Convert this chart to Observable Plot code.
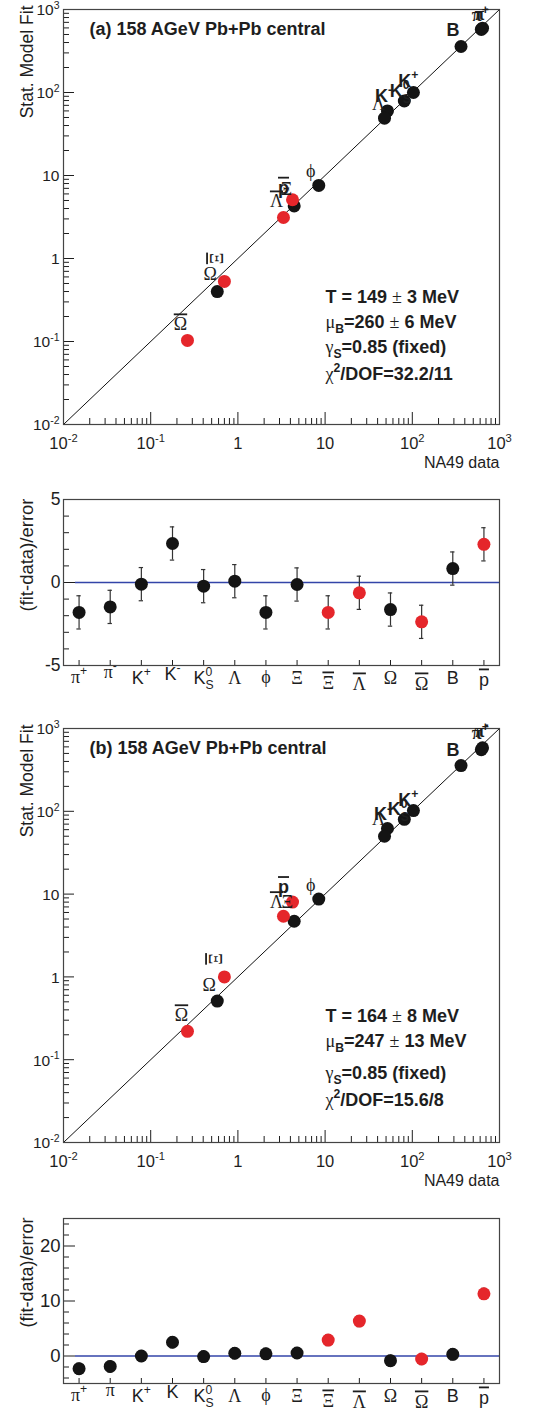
<!DOCTYPE html>
<html><head><meta charset="utf-8">
<script src="https://cdn.jsdelivr.net/npm/d3@7"></script>
<script src="https://cdn.jsdelivr.net/npm/@observablehq/plot@0.6"></script>
<style>
body{margin:0;background:#fff;}
#chart{width:534px;}
#chart svg{display:block;}
</style></head><body><div id="chart"></div>
<script>
// ---------------- DATA ----------------
const particles  = ["π^{+}", "π^{-}", "K^{+}", "K^{-}", "K^{0}_{S}", "Λ", "ϕ", "Ξ", "#bar{Ξ}", "#bar{Λ}", "Ω", "#bar{Ω}", "B", "#bar{p}"];
const particlesB = ["π^{+}", "π", "K^{+}", "K", "K^{0}_{S}", "Λ", "ϕ", "Ξ", "#bar{Ξ}", "#bar{Λ}", "Ω", "#bar{Ω}", "B", "#bar{p}"];
const excluded   = [false, false, false, false, false, false, false, false, true, true, false, true, false, true];
const na49Data   = [619, 639, 103, 51.9, 81, 48, 8.46, 4.42, 0.70, 3.33, 0.58, 0.264, 362, 4.23];
const fitA       = [575, 595, 100, 60, 79, 49, 7.6, 4.3, 0.53, 3.12, 0.40, 0.103, 358, 5.1];
const fitB       = [555, 585, 102, 62, 80, 50, 8.7, 4.7, 1.0, 5.4, 0.51, 0.22, 357, 8.0];
const residA     = [-1.8, -1.47, -0.1, 2.35, -0.22, 0.08, -1.8, -0.12, -1.8, -0.62, -1.63, -2.37, 0.84, 2.3];
const residB     = [-2.3, -1.9, 0.0, 2.5, -0.1, 0.5, 0.4, 0.55, 2.9, 6.35, -0.85, -0.55, 0.3, 11.3];
const residErr   = [1, 1, 1, 1, 1, 1, 1, 1, 1, 1, 1, 1, 1, 1];
const logTicks      = [1e-2, 1e-1, 1, 10, 100, 1000];
const logTickLabels = ["10^{-2}", "10^{-1}", "1", "10", "10^{2}", "10^{3}"];
const residTicksA   = [-5, 0, 5];
const residLabelsA  = ["-5", "0", "5"];
const residTicksB   = [0, 10, 20];
const residLabelsB  = ["0", "10", "20"];
const titles  = ["(a) 158 AGeV Pb+Pb central", "(b) 158 AGeV Pb+Pb central"];
const paramsA = ["T = 149 ± 3 MeV", "μ_{B}=260 ± 6 MeV", "γ_{S}=0.85 (fixed)", "χ^{2}/DOF=32.2/11"];
const paramsB = ["T = 164 ± 8 MeV", "μ_{B}=247 ± 13 MeV", "γ_{S}=0.85 (fixed)", "χ^{2}/DOF=15.6/8"];
const xTitle = "NA49 data", yTitle = "Stat. Model Fit", residTitle = "(fit-data)/error";

// ---------------- STYLE / LAYOUT ----------------
const SANS = "'Liberation Sans', Arial, Helvetica, sans-serif";
const SERIF = "'Liberation Serif', 'DejaVu Serif', 'Times New Roman', serif";
const BLACK = "#141414", RED = "#e5262b", BLUE = "#3344a8", INK = "#1e1e1e";
const W = 534, ML = 63, MR = 35;
const innerW = W - ML - MR;
// label offsets (px) relative to the fit point: [dx, dy(baseline), rotate]
const labelOffA = [[-1,-8],[-1,-8],[-5,-6],[-4,-9],[-4,-4],[-6,-8],[-8,-8],[-8,-11],[-7,-23,-90],[-7,-10],[-7,-12],[-7,-10],[-8,-11],[-9,-6]];
const labelOffB = [[-1,-11],[-1,-11],[-5,-5],[-5,-8],[-6,-4],[-6,-11],[-8,-8],[-7,-13],[-8,-18,-90],[-7,-8],[-8,-10],[-6,-10],[-8,-10],[-9,-9]];
const paramDyA = [-122, -97, -72, -45];
const paramDyB = [-121, -96, -64, -37];
const catDy = [17, 12, 18, 14, 18, 18, 17, 18, 23, 24, 18, 24, 18, 20];

// ---------------- RICH TEXT ----------------
function parseRich(s) {
  const out = []; let i = 0;
  const isCmd = j => ((s[j] === "^" || s[j] === "_") && s[j+1] === "{") || s.startsWith("#bar{", j);
  while (i < s.length) {
    if ((s[i] === "^" || s[i] === "_") && s[i+1] === "{") {
      const j = s.indexOf("}", i);
      out.push({text: s.slice(i+2, j), mode: s[i] === "^" ? "sup" : "sub"}); i = j + 1;
    } else if (s.startsWith("#bar{", i)) {
      const j = s.indexOf("}", i);
      out.push({text: s.slice(i+5, j), mode: "n", bar: true}); i = j + 1;
    } else {
      let j = i; while (j < s.length && !isCmd(j)) j++;
      out.push({text: s.slice(i, j), mode: "n"}); i = j;
    }
  }
  return out;
}
const GREEK = /[\u0370-\u03FF±]/;
function splitGreek(str) {
  const runs = [];
  for (const ch of str) {
    const g = GREEK.test(ch);
    if (runs.length && runs[runs.length-1].greek === g) runs[runs.length-1].text += ch;
    else runs.push({text: ch, greek: g});
  }
  return runs;
}
function richify(root) {
  root.querySelectorAll("text").forEach(t => {
    if (t.querySelector("tspan")) return;
    const s = t.textContent;
    if (!/[\^_]\{|#bar\{|[\u0370-\u03FF±]/.test(s)) return;
    const base = parseFloat(getComputedStyle(t).fontSize) || 16;
    const segs = parseRich(s);
    t.textContent = "";
    let shift = 0, prevSupW = 0, prevMode = "n";
    for (const seg of segs) {
      let first = true;
      for (const run of splitGreek(seg.text)) {
        const ts = document.createElementNS("http://www.w3.org/2000/svg", "tspan");
        ts.textContent = run.text;
        let target = 0, size = base;
        if (seg.mode === "sup") { target = -0.42 * base; size = 0.68 * base; }
        else if (seg.mode === "sub") { target = 0.33 * base; size = 0.68 * base; }
        if (size !== base) ts.setAttribute("font-size", size.toFixed(1));
        const d = target - shift;
        if (d) ts.setAttribute("dy", d.toFixed(1));
        shift = target;
        if (first && seg.mode === "sub" && prevMode === "sup") ts.setAttribute("dx", (-prevSupW).toFixed(1));
        if (run.greek) {
          ts.setAttribute("font-family", SERIF);
          if (run.text !== "π") ts.setAttribute("font-weight", "normal");
        }
        if (seg.bar) { ts.setAttribute("text-decoration", "overline"); ts.style.textDecoration = "overline"; }
        t.appendChild(ts);
        first = false;
      }
      if (seg.mode === "sup") prevSupW = 0.556 * 0.68 * base * seg.text.length;
      prevMode = seg.mode;
    }
  });
}

// ---------------- PANELS ----------------
const minorLog = [];
for (let e = -2; e < 3; e++) for (let k = 2; k < 10; k++) minorLog.push(k * 10 ** e);

function scatterPanel({fit, title, params, paramDy, labelOff, height, mt, mb}) {
  const innerH = height - mt - mb;
  const pts = particles.map((p, i) => ({i, p, x: na49Data[i], y: fit[i], red: excluded[i]}));
  const marks = [
    Plot.line([logTicks[0], logTicks[logTicks.length-1]], {x: d => d, y: d => d, stroke: "#111", strokeWidth: 1}),
    Plot.tickY(logTicks, {y: d => d, insetRight: innerW - 11, stroke: INK}),
    Plot.tickY(minorLog, {y: d => d, insetRight: innerW - 6, stroke: INK}),
    Plot.tickX(logTicks, {x: d => d, insetTop: innerH - 12, stroke: INK}),
    Plot.tickX(minorLog, {x: d => d, insetTop: innerH - 6, stroke: INK}),
    Plot.frame({stroke: "#444", strokeWidth: 1.2}),
    Plot.dot(pts.filter(d => !d.red), {x: "x", y: "y", r: 6.5, fill: BLACK}),
    Plot.dot(pts.filter(d => d.red), {x: "x", y: "y", r: 6.5, fill: RED}),
    Plot.text(logTicks, {y: d => d, text: (d, i) => logTickLabels[i], frameAnchor: "left", dx: -4, dy: 1, textAnchor: "end", fontSize: 15.5, fill: INK}),
    Plot.text(logTicks, {x: d => d, text: (d, i) => logTickLabels[i], frameAnchor: "bottom", dy: 24, lineAnchor: "bottom", fontSize: 16.5, fill: INK}),
    Plot.text([xTitle], {text: d => d, frameAnchor: "bottom-right", dy: 43, lineAnchor: "bottom", textAnchor: "end", fontSize: 16, fill: INK}),
    Plot.text([yTitle], {text: d => d, frameAnchor: "top-left", dx: -31, dy: -4, rotate: -90, textAnchor: "end", lineAnchor: "bottom", fontSize: 17.5, fill: INK}),
    Plot.text([title], {text: d => d, frameAnchor: "top-left", dx: 26, dy: 25, textAnchor: "start", lineAnchor: "bottom", fontSize: 18, fontWeight: "bold", fill: INK})
  ];
  params.forEach((p, k) => marks.push(
    Plot.text([p], {text: d => d, frameAnchor: "bottom-left", dx: 262, dy: paramDy[k], textAnchor: "start", lineAnchor: "bottom", fontSize: 18, fontWeight: "bold", fill: INK})
  ));
  pts.forEach((d, i) => {
    const o = labelOff[i];
    marks.push(Plot.text([d], {x: "x", y: "y", text: dd => particles[dd.i], dx: o[0], dy: o[1], rotate: o[2] || 0,
      lineAnchor: o[2] ? "middle" : "bottom", textAnchor: "middle", fontSize: 18, fontWeight: "bold", fill: INK}));
  });
  return Plot.plot({
    width: W, height, marginLeft: ML, marginRight: MR, marginTop: mt, marginBottom: mb,
    x: {type: "log", domain: [1e-2, 1e3], axis: null},
    y: {type: "log", domain: [1e-2, 1e3], axis: null},
    style: {fontFamily: SANS, background: "white", color: INK, overflow: "visible"},
    marks
  });
}

function residPanel({vals, cats, yDomain, majors, majorLabels, minors, height, mt, mb, tickFont, titleFont}) {
  const innerH = height - mt - mb;
  const rows = vals.map((v, i) => ({i, v, e: residErr[i], red: excluded[i]}));
  const marks = [
    Plot.ruleY([0], {stroke: BLUE, strokeWidth: 1.5, insetLeft: 12}),
    Plot.tickY(majors, {y: d => d, insetRight: innerW - 12, stroke: INK}),
    Plot.tickY(minors, {y: d => d, insetRight: innerW - 6, stroke: INK}),
    Plot.tickX(d3.range(cats.length), {x: d => d, insetTop: innerH - 5, stroke: INK}),
    Plot.frame({stroke: "#444", strokeWidth: 1.2}),
    Plot.ruleX(rows, {x: "i", y1: d => d.v - d.e, y2: d => d.v + d.e, stroke: "#333", strokeWidth: 1.2}),
    Plot.ruleY(rows, {y: d => d.v + d.e, x1: d => d.i - 0.07, x2: d => d.i + 0.07, stroke: "#333", strokeWidth: 1.2}),
    Plot.ruleY(rows, {y: d => d.v - d.e, x1: d => d.i - 0.07, x2: d => d.i + 0.07, stroke: "#333", strokeWidth: 1.2}),
    Plot.dot(rows.filter(d => !d.red), {x: "i", y: "v", r: 6.5, fill: BLACK}),
    Plot.dot(rows.filter(d => d.red), {x: "i", y: "v", r: 6.5, fill: RED}),
    Plot.text(majors, {y: d => d, text: (d, i) => majorLabels[i], frameAnchor: "left", dx: -3, textAnchor: "end", fontSize: tickFont, fill: INK}),
    Plot.text([residTitle], {text: d => d, frameAnchor: "top-left", dx: -31, dy: -1, rotate: -90, textAnchor: "end", lineAnchor: "bottom", fontSize: titleFont, fill: INK})
  ];
  cats.forEach((c, i) => marks.push(
    Plot.text([i], {x: d => d, text: () => c, frameAnchor: "bottom", dy: catDy[i], lineAnchor: "bottom", fontSize: 18, fill: INK})
  ));
  return Plot.plot({
    width: W, height, marginLeft: ML, marginRight: MR, marginTop: mt, marginBottom: mb,
    x: {type: "linear", domain: [-0.5, cats.length - 0.5], axis: null},
    y: {domain: yDomain, axis: null},
    style: {fontFamily: SANS, background: "white", color: INK, overflow: "visible"},
    marks
  });
}

const chart = document.getElementById("chart");
chart.appendChild(scatterPanel({fit: fitA, title: titles[0], params: paramsA, paramDy: paramDyA, labelOff: labelOffA, height: 475, mt: 9, mb: 51}));
chart.appendChild(residPanel({vals: residA, cats: particles, yDomain: [-5, 5], majors: residTicksA, majorLabels: residLabelsA,
  minors: d3.range(-4, 5).filter(v => v !== 0), height: 225, mt: 24, mb: 35, tickFont: 17.5, titleFont: 18.5}));
chart.appendChild(scatterPanel({fit: fitB, title: titles[1], params: paramsB, paramDy: paramDyB, labelOff: labelOffB, height: 495, mt: 28, mb: 53}));
chart.appendChild(residPanel({vals: residB, cats: particlesB, yDomain: [-5, 25], majors: residTicksB, majorLabels: residLabelsB,
  minors: d3.range(-4, 25, 2).filter(v => v % 10 !== 0), height: 215, mt: 23, mb: 27, tickFont: 18.5, titleFont: 18}));
richify(chart);
</script></body></html>
